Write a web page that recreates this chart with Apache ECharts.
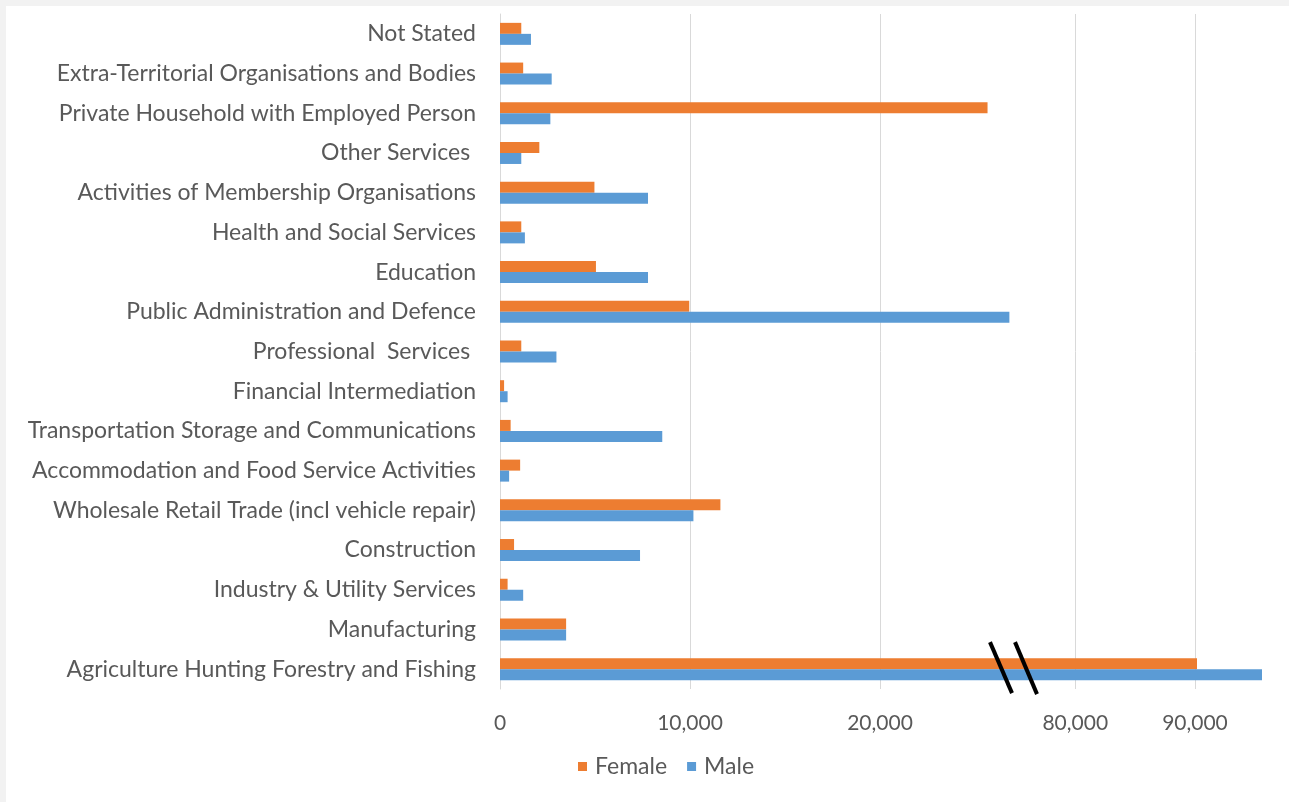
<!DOCTYPE html>
<html>
<head>
<meta charset="utf-8">
<title>Employment by Industry and Sex</title>
<script src="https://cdn.jsdelivr.net/npm/echarts@6/dist/echarts.min.js"></script>
<style>
  html, body { margin: 0; padding: 0; background: #f2f2f2; width: 1289px; height: 802px; overflow: hidden; }
  #chart { position: absolute; left: 6px; top: 6px; width: 1283px; height: 796px; background: #ffffff; }
</style>
</head>
<body>
<div id="chart"></div>
<script>
// Industries, listed top to bottom as shown
const industries = [
  'Not Stated',
  'Extra-Territorial Organisations and Bodies',
  'Private Household with Employed Person',
  'Other Services ',
  'Activities of Membership Organisations',
  'Health and Social Services',
  'Education',
  'Public Administration and Defence',
  'Professional  Services ',
  'Financial Intermediation',
  'Transportation Storage and Communications',
  'Accommodation and Food Service Activities',
  'Wholesale Retail Trade (incl vehicle repair)',
  'Construction',
  'Industry & Utility Services',
  'Manufacturing',
  'Agriculture Hunting Forestry and Fishing'
];

// Employed persons by sex
const female = [1120, 1220, 25660, 2070, 4970, 1120, 5050, 9960, 1120, 215, 560, 1060, 11600, 740, 400, 3480, 90170];
const male   = [1630, 2720, 2650, 1120, 7790, 1310, 7790, 26810, 2970, 400, 8540, 480, 10180, 7370, 1220, 3480, 95600];

// Tick values on either side of the axis break
const lowTicks = [0, 10000, 20000];
const highTicks = [80000, 90000];
const lowRange = [0, 27000];
const highRange = [74800, 95600];

const FEMALE_COLOR = '#ED7D31';
const MALE_COLOR = '#5B9BD5';
const TEXT_COLOR = '#595959';
const FONT = 'Lato, "Open Sans", sans-serif';

const chart = echarts.init(document.getElementById('chart'), null, { renderer: 'canvas' });

const gridTop = 8, gridHeight = 675;

function valueAxis(gridIndex, range, ticks) {
  return {
    type: 'value',
    gridIndex: gridIndex,
    min: range[0],
    max: range[1],
    axisLine: { show: false },
    axisTick: { show: false, customValues: ticks },
    axisLabel: {
      customValues: ticks,
      color: TEXT_COLOR,
      fontFamily: FONT,
      fontSize: 21,
      margin: 24
    },
    splitLine: { show: true, lineStyle: { color: '#d9d9d9', width: 1 } }
  };
}

function categoryAxis(gridIndex, visible) {
  return {
    type: 'category',
    gridIndex: gridIndex,
    data: industries,
    inverse: true,
    axisLine: { show: visible, lineStyle: { color: '#d9d9d9', width: 1 } },
    axisTick: { show: false },
    axisLabel: {
      show: visible,
      color: TEXT_COLOR,
      fontFamily: FONT,
      fontSize: 23,
      margin: 24
    },
    splitLine: { show: false }
  };
}

function barSeries(name, data, color, idx) {
  return {
    name: name,
    type: 'bar',
    xAxisIndex: idx,
    yAxisIndex: idx,
    data: data,
    barWidth: 11,
    barGap: '0%',
    clip: true,
    itemStyle: { color: color },
    emphasis: { disabled: true }
  };
}

chart.setOption({
  animation: false,
  grid: [
    { left: 494, top: gridTop, width: 513, height: gridHeight },
    { left: 1007, top: gridTop, width: 249, height: gridHeight }
  ],
  xAxis: [
    valueAxis(0, lowRange, lowTicks),
    valueAxis(1, highRange, highTicks)
  ],
  yAxis: [
    categoryAxis(0, true),
    categoryAxis(1, false)
  ],
  legend: {
    data: ['Female', 'Male'],
    left: 567,
    top: 744,
    itemWidth: 9,
    itemHeight: 9,
    itemGap: 20,
    icon: 'rect',
    textStyle: { color: TEXT_COLOR, fontFamily: FONT, fontSize: 23, padding: [0, 0, 0, 3] }
  },
  series: [
    barSeries('Female', female, FEMALE_COLOR, 0),
    barSeries('Male', male, MALE_COLOR, 0),
    barSeries('Female', female, FEMALE_COLOR, 1),
    barSeries('Male', male, MALE_COLOR, 1)
  ]
});

// Break marks drawn over the bottom row where the axis jumps
const lastRow = industries[industries.length - 1];
const p = chart.convertToPixel({ gridIndex: 0 }, [lowRange[1], lastRow]);
const bx = p[0], by = p[1];
chart.setOption({
  graphic: [
    { type: 'line', z: 100, shape: { x1: bx - 23, y1: by - 27, x2: bx - 1, y2: by + 24 },
      style: { stroke: '#000', lineWidth: 4 } },
    { type: 'line', z: 100, shape: { x1: bx + 2, y1: by - 27, x2: bx + 24, y2: by + 25 },
      style: { stroke: '#000', lineWidth: 4 } }
  ]
});
</script>
</body>
</html>
